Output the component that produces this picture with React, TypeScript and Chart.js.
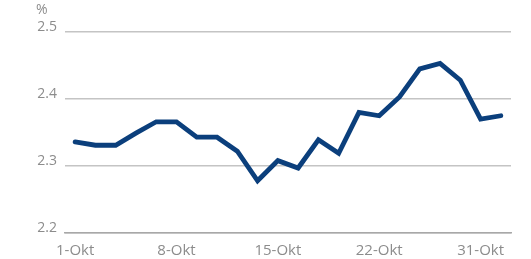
import React, { useEffect, useRef } from "react";
import { Chart, registerables } from "chart.js";

Chart.register(...registerables);

const categories = [
  "1-Okt", "", "", "", "",
  "8-Okt", "", "", "", "",
  "15-Okt", "", "", "", "",
  "22-Okt", "", "", "", "",
  "31-Okt", "",
];

const rates = [
  2.336, 2.331, 2.331, 2.349, 2.366, 2.366,
  2.343, 2.343, 2.322, 2.278, 2.308, 2.297, 2.339, 2.319,
  2.380, 2.375, 2.403, 2.445, 2.453, 2.428, 2.370, 2.375,
];

const yTicks = [2.2, 2.3, 2.4, 2.5];
const unitLabel = "%";

const FONT = "'Open Sans', 'Noto Sans', sans-serif";

export default function App() {
  const ref = useRef<HTMLCanvasElement | null>(null);

  useEffect(() => {
    if (!ref.current) return;
    const unitPlugin = {
      id: "unitLabel",
      afterDraw(chart: any) {
        const ctx = chart.ctx;
        ctx.save();
        ctx.fillStyle = "#8c8c8c";
        ctx.font = `14px ${FONT}`;
        ctx.textAlign = "left";
        ctx.textBaseline = "middle";
        ctx.fillText(unitLabel, chart.chartArea.left - 29, 10);
        ctx.restore();
      },
    };
    const chart = new Chart(ref.current, {
      type: "line",
      data: {
        labels: categories,
        datasets: [
          {
            data: rates,
            borderColor: "#0b3f7c",
            borderWidth: 4.8,
            pointRadius: 0,
            tension: 0,
            fill: false,
            borderJoinStyle: "miter",
            borderCapStyle: "round",
          },
        ],
      },
      options: {
        animation: false,
        responsive: false,
        maintainAspectRatio: false,
        layout: { padding: { top: 32, right: 20, left: 0, bottom: 0 } },
        plugins: {
          legend: { display: false },
          tooltip: { enabled: false },
        },
        scales: {
          x: {
            offset: true,
            afterFit(scale: any) {
              scale.height = 26;
            },
            grid: { display: false, drawTicks: false },
            border: { display: true, color: "#a8a8a8", width: 1.5 },
            ticks: {
              autoSkip: false,
              maxRotation: 0,
              color: "#8c8c8c",
              font: { family: FONT, size: 15 },
              padding: 9,
            },
          },
          y: {
            min: 2.2,
            max: 2.5,
            afterFit(scale: any) {
              scale.width = 65;
            },
            afterBuildTicks(scale: any) {
              scale.ticks = yTicks.map((v) => ({ value: v }));
            },
            grid: { color: "#c4c4c4", lineWidth: 1.5, drawTicks: false },
            border: { display: false },
            ticks: {
              color: "#8c8c8c",
              font: { family: FONT, size: 14 },
              padding: 8,
              labelOffset: -5,
              callback: (v: any) => Number(v).toFixed(1),
            },
          },
        },
      },
      plugins: [unitPlugin],
    });
    return () => chart.destroy();
  }, []);

  return (
    <div style={{ position: "fixed", left: 0, top: 0, width: 531, height: 259, background: "#fff" }}>
      <canvas ref={ref} width={531} height={259} style={{ width: 531, height: 259 }} />
    </div>
  );
}
